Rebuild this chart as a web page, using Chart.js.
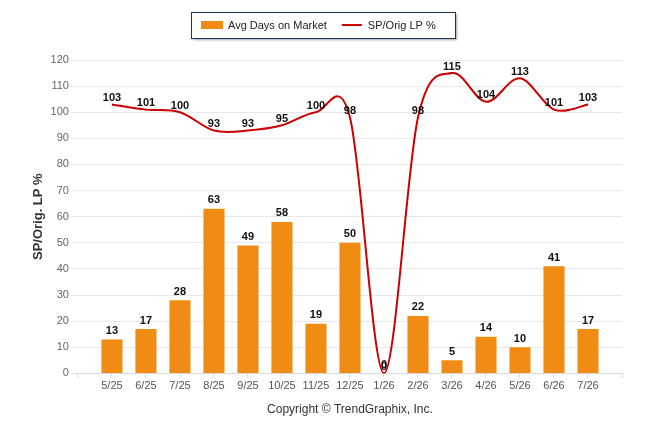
<!DOCTYPE html>
<html>
<head>
<meta charset="utf-8">
<script src="https://cdn.jsdelivr.net/npm/chart.js@4/dist/chart.umd.min.js"></script>
<style>
  html, body { margin: 0; padding: 0; background: #fff; }
  #wrap { width: 646px; height: 434px; }
</style>
</head>
<body>
<div id="wrap"><canvas id="chart"></canvas></div>
<script>
'use strict';

let months = ['5/25', '6/25', '7/25', '8/25', '9/25', '10/25', '11/25', '12/25',
  '1/26', '2/26', '3/26', '4/26', '5/26', '6/26', '7/26'];
let avgDays = [13, 17, 28, 63, 49, 58, 19, 50, 0, 22, 5, 14, 10, 41, 17];
let spOrig = [103, 101, 100, 93, 93, 95, 100, 98, 0, 98, 115, 104, 113, 101, 103];
let yMax = 120;
let yStep = 10;

let FONT = '"Liberation Sans", Arial, sans-serif';

// uniform catmull-rom smoothing (the original overshoots more than chart.js does)
const evenSpline = {
  id: 'evenSpline',
  beforeDatasetDraw(chart, args) {
    let meta = args.meta;
    if (meta.type !== 'line') return;
    meta.dataset.updateControlPoints(chart.chartArea);
    let pts = meta.data;
    for (let i = 0; i < pts.length; i++) {
      let p0 = pts[Math.max(i - 1, 0)];
      let p1 = pts[i];
      let p2 = pts[Math.min(i + 1, pts.length - 1)];
      let dx = (p2.x - p0.x) / 6;
      let dy = (p2.y - p0.y) / 6;
      p1.cp1x = p1.x - dx;
      p1.cp1y = p1.y - dy;
      p1.cp2x = p1.x + dx;
      p1.cp2y = p1.y + dy;
    }
  }
};

// numbers above bars and line points
const valueLabels = {
  id: 'valueLabels',
  afterDatasetsDraw(chart) {
    let ctx = chart.ctx;
    ctx.save();
    ctx.font = 'bold 11px ' + FONT;
    ctx.fillStyle = '#111';
    ctx.textAlign = 'center';
    ctx.textBaseline = 'bottom';
    chart.data.datasets.forEach((ds, i) => {
      chart.getDatasetMeta(i).data.forEach((el, j) => {
        let off = ds.type === 'line' ? 1 : 3;
        ctx.fillText(ds.data[j].y, el.x, el.y - off);
      });
    });
    ctx.restore();
  }
};

// framed legend with a drop shadow, drawn by hand
const boxLegend = {
  id: 'boxLegend',
  afterDraw(chart) {
    let ctx = chart.ctx;
    let sets = chart.data.datasets;
    let cy = 25;
    ctx.save();
    ctx.font = '11px ' + FONT;
    let widths = sets.map(ds => ctx.measureText(ds.label).width);
    let content = 0;
    sets.forEach((ds, i) => { content += 22 + 5 + widths[i]; });
    content += 14 * (sets.length - 1);
    let frameW = Math.round(content + 29);
    let left = Math.round(chart.width / 2 - frameW / 2);

    ctx.shadowColor = 'rgba(0,0,0,0.35)';
    ctx.shadowOffsetX = 2;
    ctx.shadowOffsetY = 2;
    ctx.shadowBlur = 2;
    ctx.fillStyle = '#fff';
    ctx.fillRect(left, cy - 13, frameW, 26);
    ctx.shadowColor = 'transparent';
    ctx.strokeStyle = '#1f3556';
    ctx.lineWidth = 1;
    ctx.strokeRect(left + 0.5, cy - 12.5, frameW, 26);

    let x = left + 10;
    ctx.textBaseline = 'middle';
    sets.forEach((ds, i) => {
      if (ds.type === 'line') {
        ctx.strokeStyle = ds.borderColor;
        ctx.lineWidth = 2;
        ctx.beginPath();
        ctx.moveTo(x + 1, cy);
        ctx.lineTo(x + 21, cy);
        ctx.stroke();
      } else {
        ctx.fillStyle = ds.backgroundColor;
        ctx.fillRect(x, cy - 4, 22, 8);
      }
      x += 27;
      ctx.fillStyle = '#222';
      ctx.fillText(ds.label, x, cy + 1);
      x += widths[i] + 14;
    });
    ctx.restore();
  }
};

function renderChart() {
  let barPoints = [];
  let linePoints = [];
  for (let i = 0; i < months.length; i++) {
    barPoints.push({ x: i, y: avgDays[i] });
    linePoints.push({ x: i, y: spOrig[i] });
  }

  let dataObject = {
    datasets: [
      {
        type: 'bar',
        label: 'Avg Days on Market',
        data: barPoints,
        backgroundColor: '#f08c14',
        borderWidth: 0,
        barPercentage: 0.62,
        categoryPercentage: 1,
        order: 1
      },
      {
        type: 'line',
        label: 'SP/Orig LP %',
        data: linePoints,
        borderColor: '#cc0000',
        backgroundColor: '#cc0000',
        borderWidth: 2,
        pointRadius: 0,
        tension: 0.4,
        order: 0
      }
    ]
  };

  let config = {
    type: 'bar',
    data: dataObject,
    plugins: [evenSpline, boxLegend, valueLabels],
    options: {
      responsive: true,
      maintainAspectRatio: false,
      animation: false,
      layout: { padding: { top: 60, left: 31, right: 24, bottom: 17 } },
      plugins: {
        tooltip: { enabled: false },
        legend: { display: false }
      },
      scales: {
        x: {
          type: 'linear',
          min: -1,
          max: months.length,
          offset: false,
          grid: { offset: false, drawOnChartArea: false, color: '#d9d9d9', tickLength: 4 },
          border: { display: true, color: '#d9d9d9' },
          ticks: {
            stepSize: 1,
            autoSkip: false,
            maxRotation: 0,
            color: '#555',
            padding: 2,
            font: { size: 11, family: FONT },
            callback: v => (months[v] !== undefined ? months[v] : '')
          },
          title: {
            display: true,
            text: 'Copyright \u00a9 TrendGraphix, Inc.',
            color: '#333',
            font: { size: 12, family: FONT },
            padding: { top: 8, bottom: 0 }
          }
        },
        y: {
          min: 0,
          max: yMax,
          grid: { color: '#e8e8e8', tickLength: 7 },
          border: { display: false },
          ticks: {
            stepSize: yStep,
            color: '#666',
            padding: 2,
            font: { size: 11, family: FONT }
          },
          title: {
            display: true,
            text: 'SP/Orig. LP %',
            color: '#333',
            font: { size: 13, weight: 'bold', family: FONT },
            padding: { top: 0, bottom: 2 }
          }
        }
      }
    }
  };
  new Chart(document.getElementById('chart'), config);
}

renderChart();
</script>
</body>
</html>
